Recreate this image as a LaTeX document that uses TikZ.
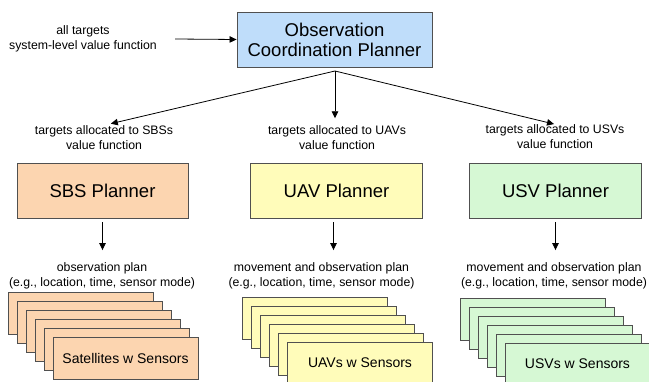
\documentclass[tikz,border=0pt]{standalone}
\usepackage{fontspec}
\setmainfont{Liberation Sans}
\usetikzlibrary{arrows.meta}

\definecolor{ocpblue}{RGB}{191,221,250}
\definecolor{sbspeach}{RGB}{252,213,176}
\definecolor{uavyellow}{RGB}{255,252,186}
\definecolor{usvgreen}{RGB}{214,248,212}
\definecolor{edgegray}{RGB}{80,80,80}

\tikzset{
  planbox/.style={draw=edgegray,line width=.9pt,minimum width=172pt,minimum height=55pt,
    align=center,font=\fontsize{18.5}{20}\selectfont},
  card/.style={draw=edgegray,line width=.9pt,minimum width=145pt,minimum height=42pt,
    font=\fontsize{14}{16}\selectfont},
  lbl/.style={align=center,inner sep=0pt,font=\fontsize{12.3}{15}\selectfont},
  arr/.style={line width=.8pt,-{Triangle[length=7pt,width=6.5pt]}}
}

\begin{document}
\begin{tikzpicture}[x=1pt,y=-1pt]
\useasboundingbox (0,0) rectangle (649,382);
\clip (0,0) rectangle (649,382);
% coordination level
\node[planbox,fill=ocpblue,minimum width=195pt] (ocp) at (334.5,39.5) {Observation\\Coordination Planner};
\node[lbl] (inp) at (83,39) {all targets\\system-level value function};
\draw[arr] ([xshift=18pt]inp.east) -- (ocp.west);
\coordinate (split) at (335,71);
\node[lbl] (sbsin) at (104,137.5) {targets allocated to SBSs\\value function};
\node[lbl] (uavin) at (337,137.5) {targets allocated to UAVs\\value function};
\node[lbl] (usvin) at (555,136.5) {targets allocated to USVs\\value function};
\draw[arr,shorten >=7pt] (split) -- (sbsin.north);
\draw[arr,shorten >=7pt] (split) -- (split |- uavin.north);
\draw[arr,shorten >=1pt] (split) -- (usvin.north);
% planners
\node[planbox,fill=sbspeach,minimum width=171pt] (sbs) at (102.5,190.5) {SBS Planner};
\node[planbox,fill=uavyellow] (uav) at (336.5,190.5) {UAV Planner};
\node[planbox,fill=usvgreen] (usv) at (555.5,190.5) {USV Planner};
\node[lbl] (sbsout) at (102,275.5) {observation plan\\(e.g., location, time, sensor mode)};
\node[lbl] (uavout) at (321.5,275.5) {movement and observation plan\\(e.g., location, time, sensor mode)};
\node[lbl] (usvout) at (554,275.5) {movement and observation plan\\(e.g., location, time, sensor mode)};
\draw[arr,shorten <=4pt,shorten >=12pt] (sbs.south) -- (sbs.south |- sbsout.north);
\draw[arr,shorten <=4pt,shorten >=12pt] ([xshift=-3pt]uav.south) -- ([xshift=-3pt]uav.south |- uavout.north);
\draw[arr,shorten <=4pt,shorten >=12pt] (usv.south) -- (usv.south |- usvout.north);
% vehicle stacks
\foreach \i in {0,...,4} {
  \node[card,fill=sbspeach] at (80.5+9*\i,313+9*\i) {};
  \node[card,fill=uavyellow] at (315+9*\i,318+9*\i) {};
  \node[card,fill=usvgreen] at (532.5+9*\i,319+9*\i) {};
}
\node[card,fill=sbspeach] (sats) at (125.5,358) {Satellites w Sensors};
\node[card,fill=uavyellow] (uavs) at (360,363) {UAVs w Sensors};
\node[card,fill=usvgreen] (usvs) at (577.5,364) {USVs w Sensors};
\end{tikzpicture}
\end{document}
